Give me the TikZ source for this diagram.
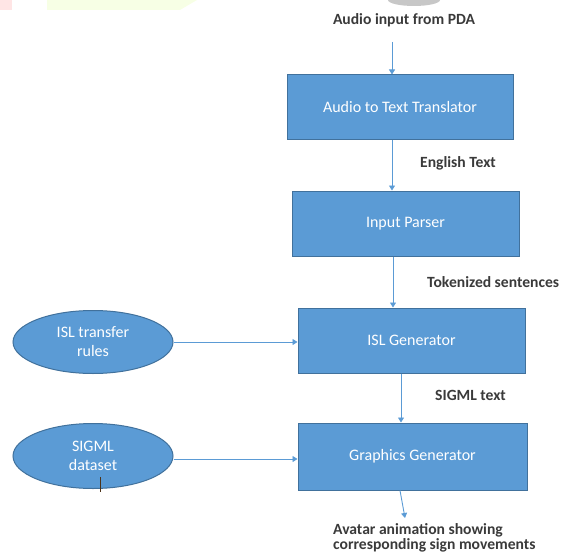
\documentclass[tikz,border=0pt]{standalone}
\usepackage{fontspec}
\setmainfont{Carlito}
\usetikzlibrary{arrows.meta,shapes.geometric}
\definecolor{boxblue}{HTML}{5B9BD5}
\definecolor{boxedge}{HTML}{41719C}
\definecolor{lbl}{HTML}{3A3A3A}
\tikzset{
  procbox/.style={draw=boxedge, line width=1pt, fill=boxblue, minimum width=227pt, minimum height=65pt, inner sep=0pt, text=white, font=\fontsize{16}{19}\selectfont},
  srcell/.style={ellipse, draw=boxedge, line width=1pt, fill=boxblue, minimum width=160pt, minimum height=63pt, inner sep=0pt, text=white, align=center, font=\fontsize{16}{19}\selectfont},
  lab/.style={text=lbl, font=\bfseries\fontsize{15.6}{18}\selectfont, inner sep=0pt},
  arr/.style={draw=boxblue, line width=0.9pt, -{Triangle[width=6pt,length=5pt]}}
}
\begin{document}
\begin{tikzpicture}[x=1pt,y=-1pt]
\useasboundingbox (0,0) rectangle (561,556);
% faint watermark fragments at top
\fill[red!10] (0,0) rectangle (12,10);
\fill[green!30!yellow!10] (47,0) -- (197,0) -- (180,10) -- (47,10) -- cycle;
\begin{scope}
  \clip (380,0) rectangle (450,8);
  \fill[black!22] (414,0) ellipse (26 and 6);
\end{scope}
% nodes
\node[procbox, minimum width=226pt] (A) at (400,107.5) {Audio to Text Translator};
\node[procbox] (B) at (405.5,223.5) {Input Parser};
\node[procbox] (C) at (411.5,340.5) {ISL Generator};
\node[procbox, minimum width=229pt, minimum height=67pt] (D) at (412.5,456.5) {Graphics Generator};
\node[srcell] (E1) at (93,342) {ISL transfer\\rules};
\node[srcell, minimum height=65pt] (E2) at (93,456) {SIGML\\dataset};
% labels
\node[lab] (Lin) at (404,20) {Audio input from PDA};
\node[lab] (Leng) at (458,163) {English Text};
\node[lab, anchor=west] (Ltok) at (427,282) {Tokenized sentences};
\node[lab, anchor=west] (Lsig) at (435,395) {SIGML text};
\node[lab, anchor=north west, align=left, font=\bfseries\fontsize{15.6}{15.5}\selectfont] (Lout) at (333,523) {Avatar animation showing\\corresponding sign movements};
\coordinate (Tin) at (392,42);
\coordinate (Tout) at (405,518);
% connectors
\draw[arr] (Tin) -- (A.north -| Tin);
\draw[arr] (A.south -| 392,0) -- (B.north -| 392,0);
\draw[arr] (B.south -| 393,0) -- (C.north -| 393,0);
\draw[arr] (C.south -| 401,0) -- (D.north -| 401,0);
\draw[arr] (D.south -| 400,0) -- (Tout);
\draw[arr] (E1.east) -- (C.west |- E1.east);
\draw[arr] (E2.east |- 0,459) -- (D.west |- 0,459);
% stray mark
\draw[black!60!brown, line width=0.8pt] (100,477) -- (100,492);
\end{tikzpicture}
\end{document}
